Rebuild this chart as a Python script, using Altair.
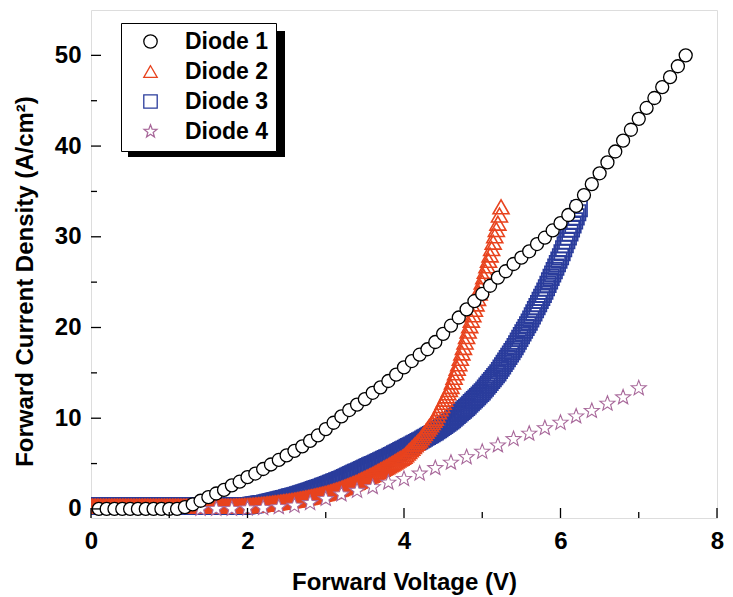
import altair as alt
import pandas as pd

FONT = "Liberation Sans"

series_names = ["Diode 1", "Diode 2", "Diode 3", "Diode 4"]
series_stroke = ["#000000", "#e8431e", "#2a3c9c", "#a8689a"]
series_fill = ["#ffffff", "transparent", "transparent", "#ffffff"]
STAR = ("M0,-1L0.247,-0.34L0.951,-0.309L0.399,0.13L0.588,0.809L0,0.42"
        "L-0.588,0.809L-0.399,0.13L-0.951,-0.309L-0.247,-0.34Z")
series_shape = ["circle", "triangle-up", "square", STAR]

x_major = [0, 2, 4, 6, 8]
x_minor = [1, 3, 5, 7]
y_major = [0, 10, 20, 30, 40, 50]
y_minor = [5, 15, 25, 35, 45]

# Diode 1 (circles)
v_diode1 = [
    0.1, 0.2, 0.3, 0.4, 0.5, 0.6, 0.7, 0.8, 0.9, 1.0,
    1.1, 1.2, 1.3, 1.4, 1.5, 1.6, 1.7, 1.8, 1.9, 2.0,
    2.1, 2.2, 2.3, 2.4, 2.5, 2.6, 2.7, 2.8, 2.9, 3.0,
    3.1, 3.2, 3.3, 3.4, 3.5, 3.6, 3.7, 3.8, 3.9, 4.0,
    4.1, 4.2, 4.3, 4.4, 4.5, 4.6, 4.7, 4.8, 4.9, 5.0,
    5.1, 5.2, 5.3, 5.4, 5.5, 5.6, 5.7, 5.8, 5.9, 6.0,
    6.1, 6.2, 6.3, 6.4, 6.5, 6.6, 6.7, 6.8, 6.9, 7.0,
    7.1, 7.2, 7.3, 7.4, 7.5, 7.6,
]
j_diode1 = [
    0.0, 0.0, 0.0, 0.0, 0.0, 0.0, 0.0, 0.0, 0.0, 0.0,
    0.0, 0.2, 0.5, 0.9, 1.3, 1.7, 2.1, 2.6, 3.0, 3.5,
    3.9, 4.4, 4.9, 5.4, 5.9, 6.4, 6.9, 7.5, 8.1, 8.8,
    9.5, 10.2, 10.9, 11.5, 12.1, 12.8, 13.4, 14.1, 14.8, 15.6,
    16.3, 17.0, 17.6, 18.4, 19.3, 20.2, 21.1, 22.0, 22.9, 23.7,
    24.6, 25.5, 26.2, 27.0, 27.7, 28.4, 29.2, 29.9, 30.7, 31.5,
    32.4, 33.4, 34.6, 35.8, 37.0, 38.2, 39.4, 40.6, 41.8, 43.0,
    44.2, 45.3, 46.5, 47.6, 48.8, 50.0,
]

# Diode 4 (stars)
v_diode4 = [
    1.4, 1.6, 1.8, 2.0, 2.2, 2.4, 2.6, 2.8, 3.0, 3.2,
    3.4, 3.6, 3.8, 4.0, 4.2, 4.4, 4.6, 4.8, 5.0, 5.2,
    5.4, 5.6, 5.8, 6.0, 6.2, 6.4, 6.6, 6.8, 7.0,
]
j_diode4 = [
    0.0, 0.0, 0.0, 0.05, 0.1, 0.2, 0.35, 0.65, 1.1, 1.6,
    2.0, 2.4, 2.9, 3.3, 3.9, 4.5, 5.1, 5.7, 6.3, 7.0,
    7.7, 8.3, 8.9, 9.5, 10.2, 10.8, 11.6, 12.3, 13.3,
]

# Voltage sweep shared by Diode 2 and Diode 3 (dense measurements)
v_sweep = [
    0.00, 0.02, 0.04, 0.06, 0.08, 0.10, 0.12, 0.14, 0.16, 0.18,
    0.20, 0.22, 0.24, 0.26, 0.28, 0.30, 0.32, 0.34, 0.36, 0.38,
    0.40, 0.42, 0.44, 0.46, 0.48, 0.50, 0.52, 0.54, 0.56, 0.58,
    0.60, 0.62, 0.64, 0.66, 0.68, 0.70, 0.72, 0.74, 0.76, 0.78,
    0.80, 0.82, 0.84, 0.86, 0.88, 0.90, 0.92, 0.94, 0.96, 0.98,
    1.00, 1.02, 1.04, 1.06, 1.08, 1.10, 1.12, 1.14, 1.16, 1.18,
    1.20, 1.22, 1.24, 1.26, 1.28, 1.30, 1.32, 1.34, 1.36, 1.38,
    1.40, 1.42, 1.44, 1.46, 1.48, 1.50, 1.52, 1.54, 1.56, 1.58,
    1.60, 1.62, 1.64, 1.66, 1.68, 1.70, 1.72, 1.74, 1.76, 1.78,
    1.80, 1.82, 1.84, 1.86, 1.88, 1.90, 1.92, 1.94, 1.96, 1.98,
    2.00, 2.02, 2.04, 2.06, 2.08, 2.10, 2.12, 2.14, 2.16, 2.18,
    2.20, 2.22, 2.24, 2.26, 2.28, 2.30, 2.32, 2.34, 2.36, 2.38,
    2.40, 2.42, 2.44, 2.46, 2.48, 2.50, 2.52, 2.54, 2.56, 2.58,
    2.60, 2.62, 2.64, 2.66, 2.68, 2.70, 2.72, 2.74, 2.76, 2.78,
    2.80, 2.82, 2.84, 2.86, 2.88, 2.90, 2.92, 2.94, 2.96, 2.98,
    3.00, 3.02, 3.04, 3.06, 3.08, 3.10, 3.12, 3.14, 3.16, 3.18,
    3.20, 3.22, 3.24, 3.26, 3.28, 3.30, 3.32, 3.34, 3.36, 3.38,
    3.40, 3.42, 3.44, 3.46, 3.48, 3.50, 3.52, 3.54, 3.56, 3.58,
    3.60, 3.62, 3.64, 3.66, 3.68, 3.70, 3.72, 3.74, 3.76, 3.78,
    3.80, 3.82, 3.84, 3.86, 3.88, 3.90, 3.92, 3.94, 3.96, 3.98,
    4.00, 4.02, 4.04, 4.06, 4.08, 4.10, 4.12, 4.14, 4.16, 4.18,
    4.20, 4.22, 4.24, 4.26, 4.28, 4.30, 4.32, 4.34, 4.36, 4.38,
    4.40, 4.42, 4.44, 4.46, 4.48, 4.50, 4.52, 4.54, 4.56, 4.58,
    4.60, 4.62, 4.64, 4.66, 4.68, 4.70, 4.72, 4.74, 4.76, 4.78,
    4.80, 4.82, 4.84, 4.86, 4.88, 4.90, 4.92, 4.94, 4.96, 4.98,
    5.00, 5.02, 5.04, 5.06, 5.08, 5.10, 5.12, 5.14, 5.16, 5.18,
    5.20, 5.22, 5.24, 5.26, 5.28, 5.30, 5.32, 5.34, 5.36, 5.38,
    5.40, 5.42, 5.44, 5.46, 5.48, 5.50, 5.52, 5.54, 5.56, 5.58,
    5.60, 5.62, 5.64, 5.66, 5.68, 5.70, 5.72, 5.74, 5.76, 5.78,
    5.80, 5.82, 5.84, 5.86, 5.88, 5.90, 5.92, 5.94, 5.96, 5.98,
    6.00, 6.02, 6.04, 6.06, 6.08, 6.10, 6.12, 6.14, 6.16, 6.18,
    6.20, 6.22, 6.24,
]

# Diode 2 (triangles), one value per sweep step up to 5.24 V
j_diode2 = [
    0.30, 0.30, 0.30, 0.30, 0.30, 0.30, 0.30, 0.30, 0.30, 0.30,
    0.30, 0.30, 0.30, 0.30, 0.30, 0.30, 0.30, 0.30, 0.30, 0.30,
    0.30, 0.30, 0.30, 0.30, 0.30, 0.30, 0.30, 0.30, 0.30, 0.30,
    0.30, 0.30, 0.30, 0.30, 0.30, 0.30, 0.30, 0.30, 0.30, 0.30,
    0.30, 0.30, 0.30, 0.30, 0.30, 0.30, 0.30, 0.30, 0.30, 0.30,
    0.30, 0.30, 0.30, 0.30, 0.30, 0.30, 0.30, 0.30, 0.30, 0.30,
    0.30, 0.30, 0.30, 0.30, 0.30, 0.30, 0.30, 0.30, 0.30, 0.30,
    0.30, 0.30, 0.30, 0.30, 0.30, 0.30, 0.30, 0.30, 0.30, 0.30,
    0.30, 0.30, 0.30, 0.30, 0.30, 0.30, 0.30, 0.30, 0.30, 0.30,
    0.30, 0.30, 0.31, 0.31, 0.32, 0.32, 0.33, 0.33, 0.34, 0.34,
    0.35, 0.37, 0.38, 0.40, 0.41, 0.43, 0.44, 0.46, 0.47, 0.49,
    0.50, 0.52, 0.54, 0.56, 0.58, 0.60, 0.62, 0.64, 0.66, 0.68,
    0.70, 0.73, 0.75, 0.78, 0.80, 0.83, 0.85, 0.88, 0.90, 0.93,
    0.95, 0.99, 1.02, 1.06, 1.09, 1.13, 1.16, 1.20, 1.23, 1.27,
    1.30, 1.34, 1.38, 1.42, 1.46, 1.50, 1.54, 1.58, 1.62, 1.66,
    1.70, 1.76, 1.81, 1.87, 1.92, 1.98, 2.03, 2.09, 2.14, 2.20,
    2.25, 2.32, 2.39, 2.46, 2.53, 2.60, 2.67, 2.74, 2.81, 2.88,
    2.95, 3.04, 3.12, 3.21, 3.29, 3.38, 3.46, 3.55, 3.63, 3.72,
    3.80, 3.90, 3.99, 4.09, 4.18, 4.28, 4.37, 4.47, 4.56, 4.66,
    4.75, 4.86, 4.96, 5.07, 5.17, 5.28, 5.38, 5.49, 5.59, 5.70,
    5.80, 5.98, 6.16, 6.34, 6.52, 6.70, 6.88, 7.06, 7.24, 7.42,
    7.60, 7.84, 8.08, 8.32, 8.56, 8.80, 9.04, 9.28, 9.52, 9.76,
    10.00, 10.35, 10.70, 11.05, 11.40, 11.75, 12.10, 12.45, 12.80, 13.15,
    13.50, 14.00, 14.50, 15.00, 15.50, 16.00, 16.60, 17.20, 17.80, 18.40,
    19.00, 19.60, 20.20, 20.80, 21.40, 22.00, 22.60, 23.20, 23.80, 24.40,
    25.00, 25.60, 26.20, 26.80, 27.40, 28.00, 28.70, 29.40, 30.10, 30.80,
    31.50, 32.40, 33.30,
]

# Diode 3 (squares), one value per sweep step up to 6.24 V
j_diode3 = [
    0.30, 0.30, 0.30, 0.30, 0.30, 0.30, 0.30, 0.30, 0.30, 0.30,
    0.30, 0.30, 0.30, 0.30, 0.30, 0.30, 0.30, 0.30, 0.30, 0.30,
    0.30, 0.30, 0.30, 0.30, 0.30, 0.30, 0.30, 0.30, 0.30, 0.30,
    0.30, 0.30, 0.30, 0.30, 0.30, 0.30, 0.30, 0.30, 0.30, 0.30,
    0.30, 0.30, 0.30, 0.30, 0.30, 0.30, 0.30, 0.30, 0.30, 0.30,
    0.30, 0.30, 0.30, 0.30, 0.30, 0.30, 0.30, 0.30, 0.30, 0.30,
    0.30, 0.30, 0.30, 0.30, 0.30, 0.30, 0.30, 0.30, 0.30, 0.30,
    0.30, 0.30, 0.30, 0.30, 0.30, 0.30, 0.30, 0.30, 0.30, 0.30,
    0.30, 0.30, 0.30, 0.30, 0.30, 0.30, 0.30, 0.30, 0.30, 0.30,
    0.30, 0.30, 0.31, 0.31, 0.32, 0.32, 0.33, 0.33, 0.34, 0.34,
    0.35, 0.38, 0.40, 0.43, 0.45, 0.48, 0.50, 0.53, 0.55, 0.58,
    0.60, 0.64, 0.68, 0.72, 0.76, 0.80, 0.84, 0.88, 0.92, 0.96,
    1.00, 1.05, 1.09, 1.14, 1.18, 1.23, 1.27, 1.32, 1.36, 1.41,
    1.45, 1.51, 1.56, 1.62, 1.67, 1.73, 1.78, 1.84, 1.89, 1.95,
    2.00, 2.06, 2.12, 2.18, 2.24, 2.30, 2.36, 2.42, 2.48, 2.54,
    2.60, 2.67, 2.74, 2.81, 2.88, 2.95, 3.02, 3.09, 3.16, 3.23,
    3.30, 3.38, 3.46, 3.54, 3.62, 3.70, 3.78, 3.86, 3.94, 4.02,
    4.10, 4.18, 4.26, 4.34, 4.42, 4.50, 4.58, 4.66, 4.74, 4.82,
    4.90, 4.98, 5.06, 5.14, 5.22, 5.30, 5.38, 5.46, 5.54, 5.62,
    5.70, 5.79, 5.88, 5.97, 6.06, 6.15, 6.24, 6.33, 6.42, 6.51,
    6.60, 6.69, 6.78, 6.87, 6.96, 7.05, 7.14, 7.23, 7.32, 7.41,
    7.50, 7.60, 7.70, 7.80, 7.90, 8.00, 8.10, 8.20, 8.30, 8.40,
    8.50, 8.62, 8.74, 8.86, 8.98, 9.10, 9.22, 9.34, 9.46, 9.58,
    9.70, 9.85, 10.00, 10.15, 10.30, 10.45, 10.60, 10.75, 10.90, 11.05,
    11.20, 11.37, 11.54, 11.71, 11.88, 12.05, 12.22, 12.39, 12.56, 12.73,
    12.90, 13.11, 13.32, 13.53, 13.74, 13.95, 14.16, 14.37, 14.58, 14.79,
    15.00, 15.26, 15.52, 15.78, 16.04, 16.30, 16.56, 16.82, 17.08, 17.34,
    17.60, 17.90, 18.20, 18.50, 18.80, 19.10, 19.40, 19.70, 20.00, 20.30,
    20.60, 20.94, 21.28, 21.62, 21.96, 22.30, 22.64, 22.98, 23.32, 23.66,
    24.00, 24.38, 24.76, 25.14, 25.52, 25.90, 26.28, 26.66, 27.04, 27.42,
    27.80, 28.24, 28.68, 29.12, 29.56, 30.00, 30.44, 30.88, 31.32, 31.76,
    32.20, 32.65, 33.10,
]


def frame(name, v, j):
    return pd.DataFrame({"series": name, "v": v, "j": j})


df = pd.concat([
    frame("Diode 1", v_diode1, j_diode1),
    frame("Diode 2", v_sweep[:len(j_diode2)], j_diode2),
    frame("Diode 3", v_sweep[:len(j_diode3)], j_diode3),
    frame("Diode 4", v_diode4, j_diode4),
], ignore_index=True)

W, H = 626, 508
xscale = alt.Scale(domain=[0, 8], nice=False, zero=False)
yscale = alt.Scale(domain=[-1, 55], nice=False, zero=False)

legend = alt.Legend(
    title=None, orient="none", legendX=30, legendY=13,
    fillColor="white", strokeColor="black", padding=7,
    labelFont=FONT, labelFontSize=23, labelFontWeight="bold", labelColor="black",
    symbolSize=180, symbolStrokeWidth=1.3, symbolOffset=11, labelOffset=23,
    rowPadding=6,
)

xaxis = alt.Axis(
    values=x_major, format="d", title="Forward Voltage (V)", ticks=False, tickSize=0,
    domain=False, grid=False, labelFlush=False, labelOverlap=False,
    labelFont=FONT, labelFontSize=24, labelFontWeight="bold", labelColor="black",
    labelPadding=11, titleFont=FONT, titleFontSize=24, titleFontWeight="bold",
    titleColor="black", titleY=52,
)
yaxis = alt.Axis(
    values=y_major, format="d", title="Forward Current Density (A/cm\u00b2)", ticks=False,
    tickSize=0, domain=False, grid=False, labelOverlap=False,
    labelFont=FONT, labelFontSize=24, labelFontWeight="bold", labelColor="black",
    labelPadding=10, titleFont=FONT, titleFontSize=24, titleFontWeight="bold",
    titleColor="black", titleX=-54, titleY=271,
)

enc_common = dict(
    x=alt.X("v:Q", scale=xscale, axis=xaxis),
    y=alt.Y("j:Q", scale=yscale, axis=yaxis),
    stroke=alt.Stroke("series:N", scale=alt.Scale(domain=series_names, range=series_stroke), legend=legend),
    fill=alt.Fill("series:N", scale=alt.Scale(domain=series_names, range=series_fill), legend=legend),
    shape=alt.Shape("series:N", scale=alt.Scale(domain=series_names, range=series_shape), legend=legend),
)

base = alt.Chart(df)


def series_layer(name, size, sw, clip=False):
    return base.transform_filter(alt.datum.series == name).mark_point(
        size=size, strokeWidth=sw, opacity=1, clip=clip
    ).encode(**enc_common)


shadow = alt.Chart(pd.DataFrame({"k": [0]})).mark_rect(color="black").encode(
    x=alt.value(37), x2=alt.value(194), y=alt.value(21), y2=alt.value(147)
)


def xticks(values, length):
    return alt.Chart(pd.DataFrame({"v": values})).mark_rule(color="black", strokeWidth=1.3).encode(
        x=alt.X("v:Q", scale=xscale, axis=xaxis), y=alt.value(H), y2=alt.value(H - length))


def yticks(values, length):
    return alt.Chart(pd.DataFrame({"j": values})).mark_rule(color="black", strokeWidth=1.3).encode(
        y=alt.Y("j:Q", scale=yscale, axis=yaxis), x=alt.value(0), x2=alt.value(length))


chart = alt.layer(
    shadow,
    series_layer("Diode 3", 240, 1.7, clip=True),
    series_layer("Diode 2", 256, 1.6, clip=True),
    series_layer("Diode 4", 250, 1.1),
    series_layer("Diode 1", 169, 1.3),
    xticks(x_major, 10), xticks(x_minor, 6), yticks(y_major, 10), yticks(y_minor, 6),
).properties(
    width=W, height=H,
    autosize=alt.AutoSizeParams(type="none"),
    padding={"left": 91, "top": 10, "right": 16, "bottom": 79},
).configure_view(
    stroke="black", strokeWidth=1.8
).configure(background="white")

chart.save("out.html", embed_options={"renderer": "svg", "actions": False})
